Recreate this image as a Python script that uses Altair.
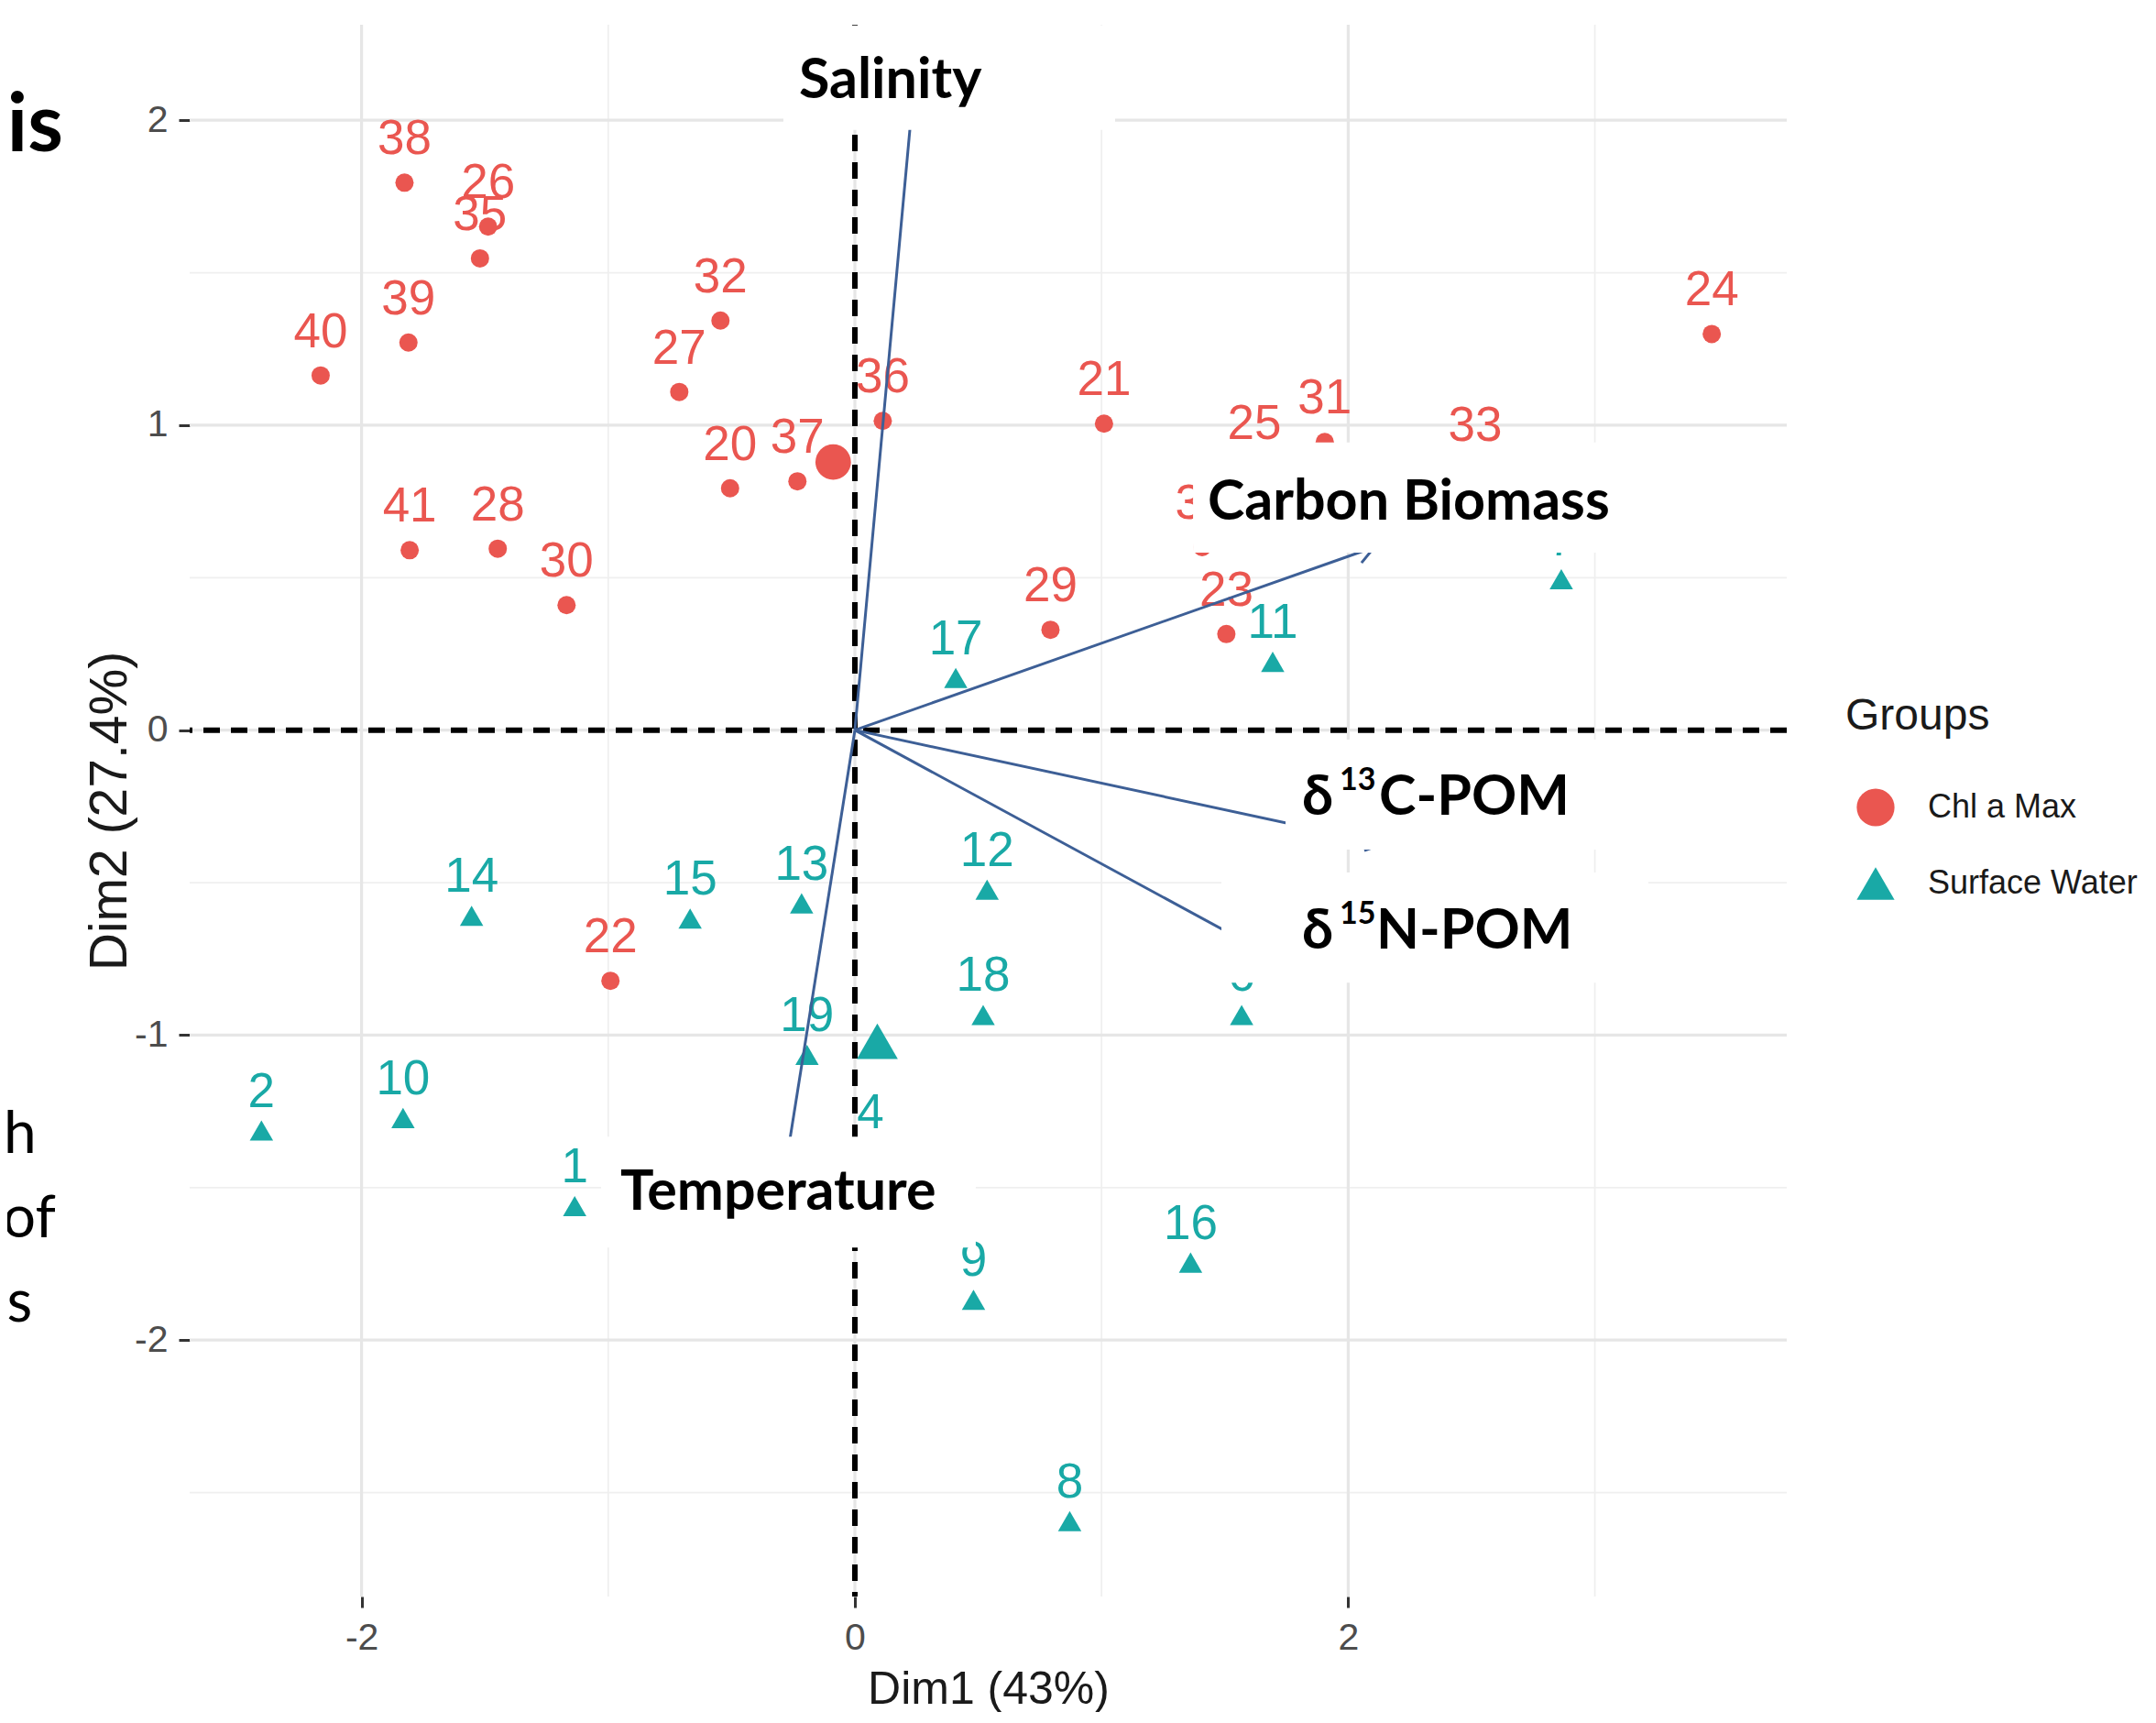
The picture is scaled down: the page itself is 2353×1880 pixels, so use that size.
import math
import altair as alt
import pandas as pd

# ---------------- data ----------------
groups = ["Chl a Max", "Surface Water"]
group_colors = ["#EA5650", "#19A9A6"]
group_shapes = ["circle", "triangle-up"]

chl_ids = [38, 26, 35, 39, 40, 32, 27, 36, 21, 20, 37, 41, 28, 30, 29, 23, 25, 31, 33, 34, 24, 22]
chl_x = [-1.826, -1.487, -1.520, -1.810, -2.166, -0.545, -0.712, 0.113, 1.010, -0.506, -0.233,
         -1.805, -1.448, -1.169, 0.793, 1.506, 1.620, 1.905, 2.515, 1.408, 3.474, -0.991]
chl_y = [1.795, 1.651, 1.547, 1.271, 1.163, 1.343, 1.109, 1.014, 1.005, 0.793, 0.816,
         0.590, 0.595, 0.410, 0.329, 0.315, 0.860, 0.945, 0.855, 0.600, 1.299, -0.822]

sw_ids = [17, 11, 7, 14, 15, 13, 12, 18, 19, 6, 2, 10, 1, 4, 9, 16, 8]
sw_x = [0.409, 1.694, 2.864, -1.554, -0.668, -0.216, 0.536, 0.520, -0.194, 1.568,
        -2.406, -1.832, -1.136, 0.063, 0.481, 1.361, 0.871]
sw_y = [0.171, 0.224, 0.495, -0.609, -0.618, -0.568, -0.523, -0.934, -1.065, -0.934,
        -1.313, -1.272, -1.561, -1.384, -1.868, -1.746, -2.594]

mean_x = [-0.088, 0.091]
mean_y = [0.879, -1.020]

var_names = ["Salinity", "Carbon Biomass", "δ13C-POM", "δ15N-POM", "Temperature"]
var_x = [0.249, 2.106, 2.143, 1.868, -0.297]
var_y = [2.200, 0.600, -0.373, -0.819, -1.513]

# white label boxes of the overlaid variable names
box_x1 = [-0.290, 1.371, 1.746, 1.486, -1.029]
box_x2 = [1.055, 3.221, 3.221, 3.217, 0.490]
box_y1 = [2.311, 0.943, -0.031, -0.467, -1.333]
box_y2 = [1.968, 0.582, -0.392, -0.828, -1.697]

# overlaid name pieces (text, x, y, font size)
name_text = ["Salinity", "Carbon Biomass", "δ", "13", "C-POM", "δ", "15", "N-POM", "Temperature"]
name_x = [-0.227, 1.430, 1.813, 1.965, 2.125, 1.813, 1.965, 2.114, -0.951]
name_y = [2.073, 0.690, -0.277, -0.196, -0.277, -0.716, -0.635, -0.716, -1.573]
name_size = [61, 61, 61, 34, 61, 61, 34, 61, 61]

# cropped slide text at the left edge
frag_bold_text = ["is"]
frag_bold_x = [-3.210]
frag_bold_y = [1.899]
frag_text = ["h", "of", "s"]
frag_x = [-3.318, -3.240, -3.335]
frag_y = [-1.387, -1.663, -1.939]

x_major = [-2, 0, 2]
x_minor = [-1, 1, 3]
y_major = [-2, -1, 0, 1, 2]
y_minor = [-2.5, -1.5, -0.5, 0.5, 1.5]

# ---------------- layout ----------------
W, H = 1743, 1715
XD = [-2.697, 3.778]
YD = [-2.841, 2.313]
NARROW = "Liberation Sans Narrow, Arial Narrow, Liberation Sans, sans-serif"
REG = "Liberation Sans, Arial, sans-serif"
LATO = "Lato, Open Sans, DejaVu Sans, sans-serif"
ARROW = "#3D5F96"

xs = alt.Scale(domain=XD, nice=False, zero=False)
ys = alt.Scale(domain=YD, nice=False, zero=False)

X_AXIS = alt.Axis(values=x_major, grid=False, domain=False, ticks=True, tickColor="#333333",
                  tickSize=12, tickWidth=3, labelFont=NARROW, labelFontSize=41,
                  labelColor="#4D4D4D", labelPadding=13, labelExpr="'' + datum.value",
                  title="Dim1 (43%)", titleFont=NARROW, titleFontSize=50, titleColor="#1A1A1A",
                  titleFontWeight="normal", titleX=W / 2, titleY=116,
                  titleBaseline="alphabetic", titleAlign="center")
Y_AXIS = alt.Axis(values=y_major, grid=False, domain=False, ticks=True, tickColor="#333333",
                  tickSize=12, tickWidth=3, labelFont=NARROW, labelFontSize=41,
                  labelColor="#4D4D4D", labelPadding=12, labelExpr="'' + datum.value",
                  title="Dim2 (27.4%)", titleFont=REG, titleFontSize=57, titleColor="#1A1A1A",
                  titleFontWeight="normal", titleAngle=270, titleX=-87, titleY=H / 2,
                  titleBaseline="middle", titleAlign="center")

def X(f):
    return alt.X(f, type="quantitative", scale=xs, axis=X_AXIS)

def Y(f):
    return alt.Y(f, type="quantitative", scale=ys, axis=Y_AXIS)

LEG = alt.Legend(title="Groups", orient="none", legendX=1807, legendY=731,
                 titleFont=NARROW, titleFontSize=48, titleFontWeight="normal", titleColor="#1A1A1A",
                 labelFont=NARROW, labelFontSize=36, labelColor="#1A1A1A", labelLimit=0,
                 symbolSize=1700, symbolStrokeWidth=0, symbolOpacity=1,
                 titlePadding=54, rowPadding=41, labelOffset=36, symbolOffset=12, padding=0)

# ---------------- tables ----------------
pts = pd.DataFrame({
    "x": chl_x + sw_x,
    "y": chl_y + sw_y,
    "label": [str(i) for i in chl_ids + sw_ids],
    "group": [groups[0]] * len(chl_ids) + [groups[1]] * len(sw_ids),
    "hex": [group_colors[0]] * len(chl_ids) + [group_colors[1]] * len(sw_ids),
    "sz": [400] * len(chl_ids) + [650] * len(sw_ids),
})
means = pd.DataFrame({"x": mean_x, "y": mean_y, "hex": group_colors,
                      "shape": group_shapes, "sz": [1500, 2000]})

ux = W / (XD[1] - XD[0])
uy = H / (YD[1] - YD[0])
arrows = pd.DataFrame({
    "name": var_names, "x0": [0.0] * 5, "y0": [0.0] * 5, "tx": var_x, "ty": var_y,
    "ang": [math.degrees(math.atan2(dx * ux, dy * uy)) % 360 for dx, dy in zip(var_x, var_y)],
})
boxes = pd.DataFrame({"x1": box_x1, "x2": box_x2, "y1": box_y1, "y2": box_y2})
names = pd.DataFrame({"t": name_text, "x": name_x, "y": name_y, "fs": name_size})
frag_b = pd.DataFrame({"t": frag_bold_text, "x": frag_bold_x, "y": frag_bold_y})
frag_r = pd.DataFrame({"t": frag_text, "x": frag_x, "y": frag_y})

# ---------------- layers ----------------
gx_maj = alt.Chart(pd.DataFrame({"v": x_major})).mark_rule(color="#E6E6E6", strokeWidth=3.2).encode(x=X("v"))
gx_min = alt.Chart(pd.DataFrame({"v": x_minor})).mark_rule(color="#EFEFEF", strokeWidth=1.8).encode(x=X("v"))
gy_maj = alt.Chart(pd.DataFrame({"v": y_major})).mark_rule(color="#E6E6E6", strokeWidth=3.2).encode(y=Y("v"))
gy_min = alt.Chart(pd.DataFrame({"v": y_minor})).mark_rule(color="#EFEFEF", strokeWidth=1.8).encode(y=Y("v"))

zero = pd.DataFrame({"v": [0.0]})
vdash = alt.Chart(zero).mark_rule(color="black", strokeWidth=6, strokeDash=[18, 12]).encode(x=X("v"))
hdash = alt.Chart(zero).mark_rule(color="black", strokeWidth=6, strokeDash=[18, 12]).encode(y=Y("v"))

chl_lab = alt.Chart(pts[pts.group == groups[0]]).mark_text(
    font=NARROW, fontSize=53, dy=-31, baseline="alphabetic", align="center").encode(
    x=X("x"), y=Y("y"), text="label:N", color=alt.Color("hex:N", scale=None))
sw_lab = alt.Chart(pts[pts.group == groups[1]]).mark_text(
    font=NARROW, fontSize=53, dy=-26, baseline="alphabetic", align="center").encode(
    x=X("x"), y=Y("y"), text="label:N", color=alt.Color("hex:N", scale=None))

points = alt.Chart(pts).mark_point(filled=True, opacity=1, strokeWidth=0).encode(
    x=X("x"), y=Y("y"),
    color=alt.Color("group:N", scale=alt.Scale(domain=groups, range=group_colors), legend=LEG),
    shape=alt.Shape("group:N", scale=alt.Scale(domain=groups, range=group_shapes), legend=LEG),
    size=alt.Size("sz:Q", scale=None),
)
mean_pts = alt.Chart(means).mark_point(filled=True, opacity=1, strokeWidth=0).encode(
    x=X("x"), y=Y("y"), color=alt.Color("hex:N", scale=None),
    shape=alt.Shape("shape:N", scale=None), size=alt.Size("sz:Q", scale=None))

arrow_lines = alt.Chart(arrows).mark_rule(color=ARROW, strokeWidth=3).encode(
    x=X("x0"), y=Y("y0"), x2="tx:Q", y2="ty:Q")
arrow_heads = alt.Chart(arrows).mark_point(
    shape="M -0.55 0.9 L 0 0 L 0.55 0.9", filled=False, color=ARROW, strokeWidth=3,
    size=1764, opacity=1).encode(x=X("tx"), y=Y("ty"), angle=alt.Angle("ang:Q", scale=None))

box_layer = alt.Chart(boxes).mark_rect(color="white", opacity=1).encode(
    x=X("x1"), x2="x2:Q", y=Y("y1"), y2="y2:Q")
name_layer = alt.Chart(names).mark_text(
    font=LATO, fontWeight="bold", align="left", baseline="alphabetic", color="black").encode(
    x=X("x"), y=Y("y"), text="t:N", size=alt.Size("fs:Q", scale=None))

frag_bold = alt.Chart(frag_b).mark_text(
    font=LATO, fontWeight="bold", fontSize=88, align="right", baseline="alphabetic",
    color="black").encode(x=X("x"), y=Y("y"), text="t:N")
frag_reg = alt.Chart(frag_r).mark_text(
    font=LATO, fontSize=64, align="right", baseline="alphabetic",
    color="black").encode(x=X("x"), y=Y("y"), text="t:N")

chart = alt.layer(
    gx_min, gy_min, gx_maj, gy_maj, vdash, hdash,
    chl_lab, sw_lab, points, mean_pts, arrow_lines, arrow_heads,
    box_layer, name_layer, frag_bold, frag_reg,
).properties(
    width=W, height=H,
    autosize=alt.AutoSizeParams(type="none"),
    padding={"left": 199, "top": 19, "right": 390, "bottom": 126},
    background="white",
).configure_view(stroke=None)

chart.save("out.html", embed_options={"renderer": "svg", "actions": False})
